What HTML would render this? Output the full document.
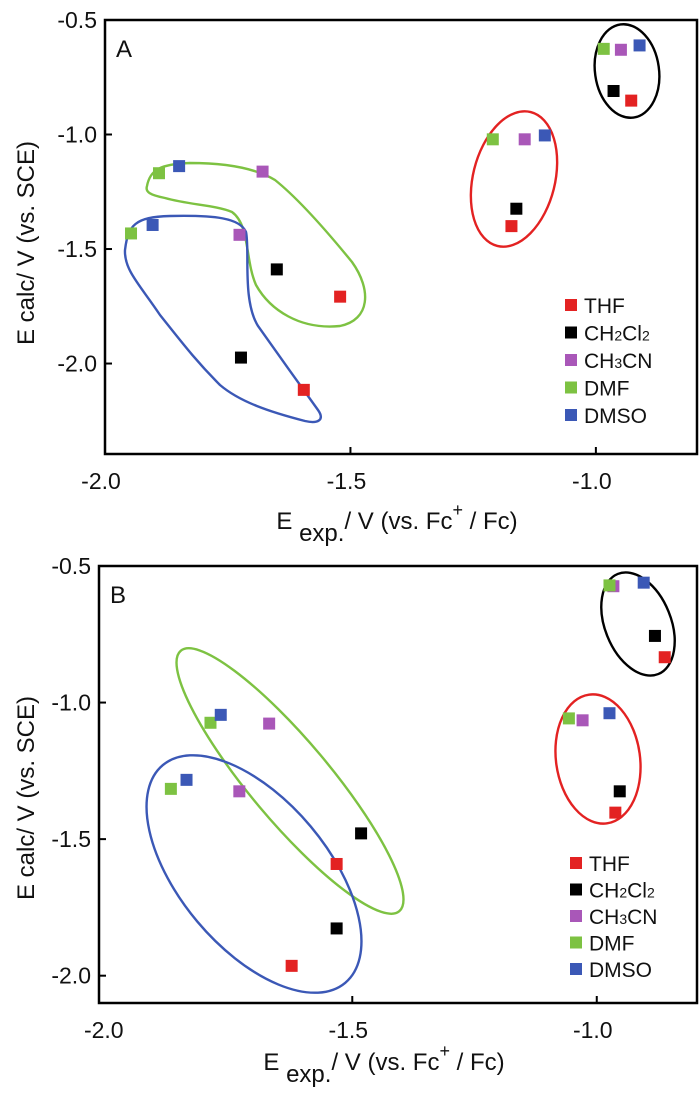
<!DOCTYPE html>
<html><head><meta charset="utf-8"><style>
html,body{margin:0;padding:0;background:#fff;}
svg{display:block;font-family:"Liberation Sans",Arial,sans-serif;}
</style></head><body>
<svg id="fig" width="700" height="1095" viewBox="0 0 700 1095" xmlns="http://www.w3.org/2000/svg"></svg>
<script>
const solvents = ["THF","CH2Cl2","CH3CN","DMF","DMSO"];
const colors = ["#e32222","#000000","#a957b8","#7dc242","#3b58b6"];
// Panel A values [x,y] per solvent
const aTHF = [[-0.928,-0.852],[-1.172,-1.400],[-1.521,-1.708],[-1.595,-2.115]];
const aCH2Cl2 = [[-0.964,-0.810],[-1.162,-1.324],[-1.650,-1.589],[-1.723,-1.974]];
const aCH3CN = [[-0.949,-0.630],[-1.145,-1.021],[-1.679,-1.162],[-1.726,-1.438]];
const aDMF = [[-0.984,-0.626],[-1.210,-1.021],[-1.890,-1.169],[-1.947,-1.432]];
const aDMSO = [[-0.911,-0.611],[-1.104,-1.004],[-1.849,-1.138],[-1.903,-1.395]];
// Panel B values
const bTHF = [[-0.861,-0.834],[-0.962,-1.403],[-1.532,-1.591],[-1.624,-1.964]];
const bCH2Cl2 = [[-0.881,-0.756],[-0.953,-1.325],[-1.482,-1.479],[-1.532,-1.827]];
const bCH3CN = [[-0.966,-0.574],[-1.029,-1.065],[-1.670,-1.077],[-1.731,-1.325]];
const bDMF = [[-0.974,-0.571],[-1.057,-1.058],[-1.790,-1.074],[-1.871,-1.316]];
const bDMSO = [[-0.904,-0.561],[-0.974,-1.039],[-1.769,-1.045],[-1.839,-1.283]];
const xTicks = [-2.0,-1.5,-1.0];
const yTicks = [-0.5,-1.0,-1.5,-2.0];
const tickLabelsX = ["-2.0","-1.5","-1.0"];
const tickLabelsY = ["-0.5","-1.0","-1.5","-2.0"];

const NS="http://www.w3.org/2000/svg";
const svg=document.getElementById('fig');
function mk(tag,attrs,parent){const e=document.createElementNS(NS,tag);for(const k in attrs)e.setAttribute(k,attrs[k]);(parent||svg).appendChild(e);return e;}

function panel(cfg){
  const g=mk('g',{});
  
  
  const sx=v=>cfg.x0+(v-cfg.xmin)/(cfg.xmax-cfg.xmin)*(cfg.x1-cfg.x0);
  const sy=v=>cfg.y0+(cfg.ymax-v)/(cfg.ymax-cfg.ymin)*(cfg.y1-cfg.y0);
  // shapes (group outlines)
  cfg.shapes(g);
  const box=mk('rect',{x:cfg.x0,y:cfg.y0,width:cfg.x1-cfg.x0,height:cfg.y1-cfg.y0,fill:'none',stroke:'#000','stroke-width':2.5},g);
  
  
  xTicks.forEach((t,i)=>{
    const x=sx(t);
    if(i>0){const tk=mk('line',{x1:x,x2:x,y1:cfg.y1,y2:cfg.y1-7,stroke:'#000','stroke-width':2},g);
      
      }
    const tl=mk('text',{x:x-4,y:cfg.y1+35,'font-size':23,'text-anchor':'middle',fill:'#111'},g);
    tl.textContent=tickLabelsX[i];
    
    
  });
  yTicks.forEach((t,i)=>{
    const y=sy(t);
    if(i>0){const tk=mk('line',{x1:cfg.x0,x2:cfg.x0+7,y1:y,y2:y,stroke:'#000','stroke-width':2},g);
      
      }
    const tl=mk('text',{x:cfg.x0-8,y:y+8,'font-size':23,'text-anchor':'end',fill:'#111'},g);
    tl.textContent=tickLabelsY[i];
    
    
  });
  cfg.series.forEach((s,i)=>{
    s.forEach(p=>{
      const r=mk('rect',{x:sx(p[0])-6,y:sy(p[1])-6,width:12,height:12,fill:colors[i]},g);
      
      
    });
  });
  const lab=mk('text',{x:cfg.x0+11,y:cfg.y0+37,'font-size':24,fill:'#111'},g);
  lab.textContent=cfg.id.toUpperCase();
  
  
  // legend
  const lgNames=[["THF"],["CH","2","Cl","2"],["CH","3","CN"],["DMF"],["DMSO"]];
  lgNames.forEach((parts,i)=>{
    const y=cfg.legY+i*cfg.legStep;
    const sq=mk('rect',{x:cfg.legX-6,y:y-6,width:12,height:12,fill:colors[i]},g);
    
    
    const t=mk('text',{x:cfg.legX+13,y:y+8,'font-size':21,fill:'#111'},g);
    
    
    parts.forEach((p,j)=>{const ts=mk('tspan',{},t);ts.textContent=p;
      if(/^\d$/.test(p)){ts.setAttribute('font-size',14);}
    });
  });
  // axis titles
  const yt=mk('text',{x:0,y:0,'font-size':24,'text-anchor':'middle',fill:'#111',transform:`translate(${cfg.yTitleX},${cfg.yTitleY}) rotate(-90)`},g);
  yt.textContent='E calc/ V (vs. SCE)';
  
  
  const xt=mk('text',{x:cfg.xTitleX,y:cfg.xTitleY,'font-size':24,'text-anchor':'middle',fill:'#111'},g);
  
  
  const a=mk('tspan',{},xt);a.textContent='E ';
  const b=mk('tspan',{dy:12},xt);b.textContent='exp.';
  const c=mk('tspan',{dy:-12},xt);c.textContent='/ V (vs. Fc';
  const d=mk('tspan',{dy:-13,'font-size':18},xt);d.textContent='+';
  const e=mk('tspan',{dy:13},xt);e.textContent=' / Fc)';
}

function outline(g,name,attrs,tag){
  const el=mk(tag||'path',Object.assign({fill:'none','stroke-width':2.4},attrs),g);
  
  
}

panel({id:'a',x0:105,x1:697,y0:20,y1:454,xmin:-2.0,xmax:-0.794,ymin:-2.395,ymax:-0.5,
  series:[aTHF,aCH2Cl2,aCH3CN,aDMF,aDMSO],legX:571,legY:305,legStep:27.5,
  yTitleX:34,yTitleY:243,xTitleX:397,xTitleY:529,
  shapes:g=>{
    outline(g,'cluster-outline-black',{cx:0,cy:0,rx:32,ry:47,stroke:'#000',transform:'translate(627,71) rotate(-8)'},'ellipse');
    outline(g,'cluster-outline-red',{cx:0,cy:0,rx:41,ry:69,stroke:'#e32222',transform:'translate(514,179) rotate(14)'},'ellipse');
    outline(g,'cluster-outline-green',{stroke:'#7dc242',d:'M147,186 C150,170 160,164 190,163 C225,163 255,168 275,180 C300,200 330,235 352,262 C372,290 370,320 340,326 C300,330 270,310 256,285 C245,260 250,225 232,212 C215,205 190,205 165,198 C150,195 145,192 147,186 Z'});
    outline(g,'cluster-outline-blue',{stroke:'#3b58b6',d:'M125,250 C128,225 135,217 170,216 C215,215 240,218 246,232 C250,250 242,300 258,326 C275,350 300,385 318,410 C325,420 318,424 305,421 C270,412 240,402 220,385 C195,360 180,340 160,315 C140,285 124,270 125,250 Z'});
  }});

panel({id:'b',x0:99,x1:697,y0:566,y1:1003,xmin:-2.018,xmax:-0.795,ymin:-2.1,ymax:-0.5,
  series:[bTHF,bCH2Cl2,bCH3CN,bDMF,bDMSO],legX:576,legY:863,legStep:26.5,
  yTitleX:34,yTitleY:798,xTitleX:384,xTitleY:1070,
  shapes:g=>{
    outline(g,'cluster-outline-black',{cx:0,cy:0,rx:33,ry:54,stroke:'#000',transform:'translate(638,624) rotate(-22)'},'ellipse');
    outline(g,'cluster-outline-red',{cx:0,cy:0,rx:42,ry:65,stroke:'#e32222',transform:'translate(598,759) rotate(-8)'},'ellipse');
    outline(g,'cluster-outline-green',{cx:0,cy:0,rx:40,ry:170,stroke:'#7dc242',transform:'translate(290,781) rotate(-40)'},'ellipse');
    outline(g,'cluster-outline-blue',{cx:0,cy:0,rx:74,ry:142,stroke:'#3b58b6',transform:'translate(254,874) rotate(-40)'},'ellipse');
  }});
</script>
</body></html>
